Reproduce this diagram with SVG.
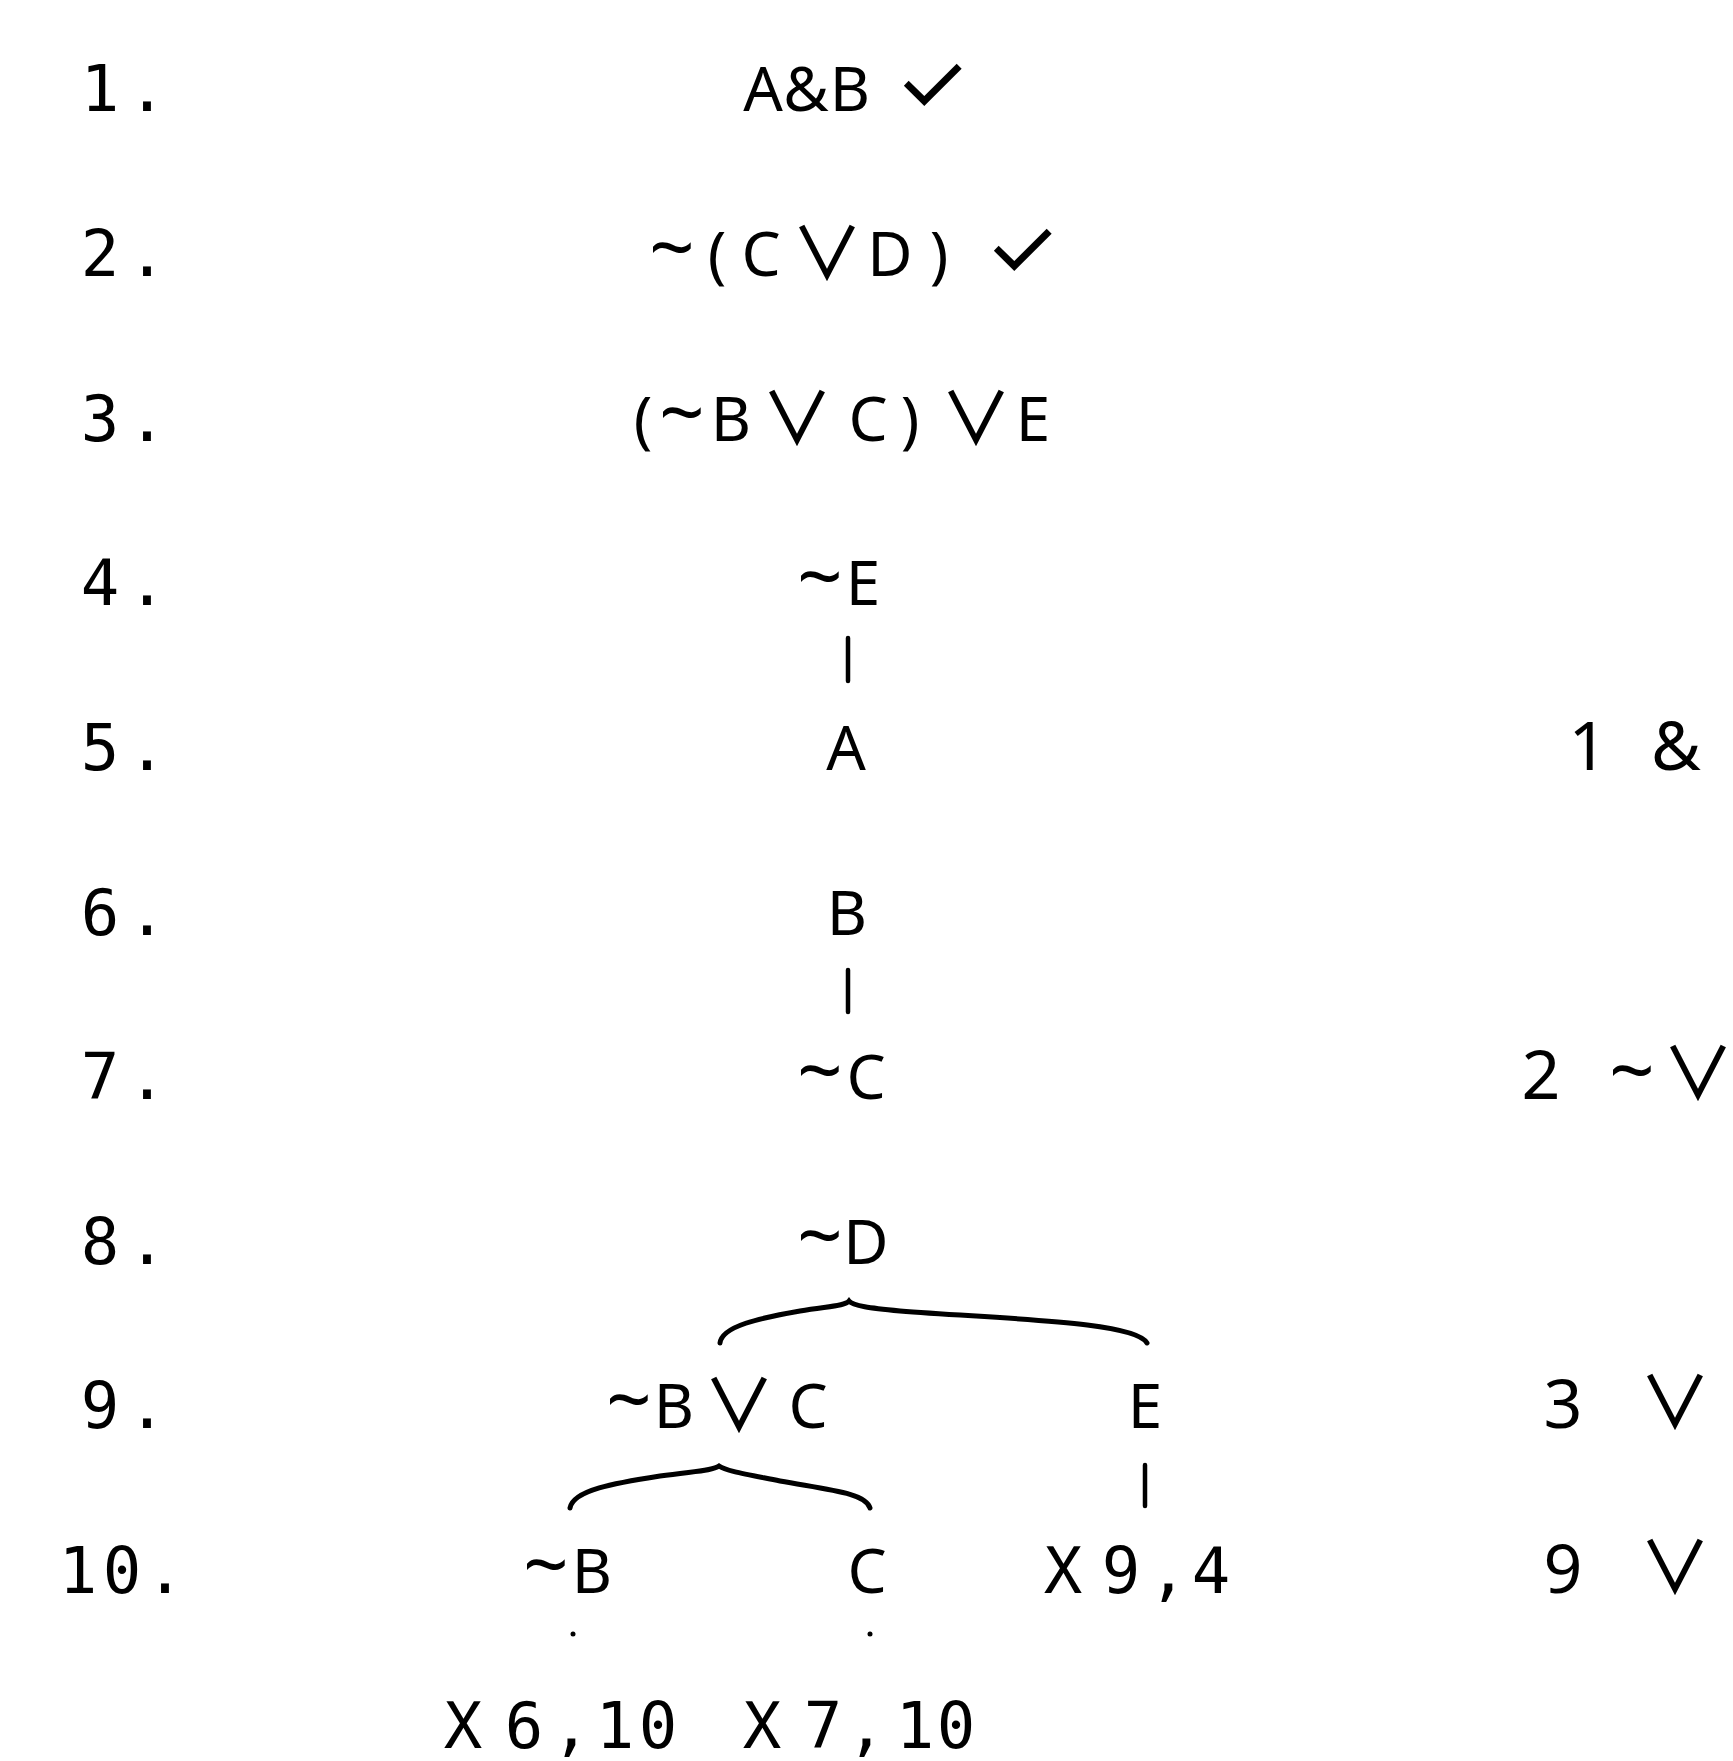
<svg xmlns="http://www.w3.org/2000/svg" width="1733" height="1761" viewBox="0 0 1733 1761">
<style>
  text { fill: #000; }
  .num { font-family: "DejaVu Sans Mono", monospace; font-size: 64px; text-anchor: middle; }
  .f { font-family: "Noto Sans", "DejaVu Sans", sans-serif; font-size: 62px; text-anchor: middle; }
  .or { font-family: "Noto Sans CJK JP", "DejaVu Sans", sans-serif; font-size: 72px; font-weight: 500; }
  .f .or { baseline-shift: -3px; }
  .til { font-size: 80px; }
  .chk { font-family: "Inter", "DejaVu Sans", sans-serif; font-size: 84px; font-weight: 400; baseline-shift: -2px; }
  .just { font-family: "Noto Sans", "DejaVu Sans", sans-serif; font-size: 68px; text-anchor: middle; }
  .conn { stroke: #000; stroke-width: 4.5; fill: none; stroke-linecap: round; }
  .brace { stroke-width: 5; }
  .dot { fill: #000; }
</style>
<rect width="1733" height="1761" fill="#fff"/>
<g id="row-numbers">
  <text class="num" x="100 147" y="111">1.</text>
  <text class="num" x="100 147" y="276">2.</text>
  <text class="num" x="100 147" y="441">3.</text>
  <text class="num" x="100 147" y="605">4.</text>
  <text class="num" x="100 147" y="770">5.</text>
  <text class="num" x="100 147" y="935">6.</text>
  <text class="num" x="100 147" y="1099">7.</text>
  <text class="num" x="100 147" y="1264">8.</text>
  <text class="num" x="100 147" y="1428">9.</text>
  <text class="num" x="78 122 165" y="1593">10.</text>
</g>
<g id="n1"><text class="f" x="763 806 850 891 932" y="111">A&amp;B <tspan class="chk">✓</tspan></text></g>
<g id="n2"><text class="f" x="672 717 761 827 890 939 980 1022" y="276"><tspan class="til">~</tspan>(C<tspan class="or">∨</tspan>D) <tspan class="chk">✓</tspan></text></g>
<g id="n3"><text class="f" x="643 682 731 797 868 910 976 1033" y="441">(<tspan class="til">~</tspan>B<tspan class="or">∨</tspan>C)<tspan class="or">∨</tspan>E</text></g>
<g id="n4"><text class="f" x="820 863" y="605"><tspan class="til">~</tspan>E</text></g>
<g id="n5"><text class="f" x="846" y="770">A</text></g>
<g id="n6"><text class="f" x="847" y="935">B</text></g>
<g id="n7"><text class="f" x="820 866" y="1099"><tspan class="til">~</tspan>C</text></g>
<g id="n8"><text class="f" x="820 866" y="1264"><tspan class="til">~</tspan>D</text></g>
<g id="n9a"><text class="f" x="629 674 739 808" y="1428"><tspan class="til">~</tspan>B<tspan class="or">∨</tspan>C</text></g>
<g id="n9b"><text class="f" x="1145" y="1428">E</text></g>
<g id="n10a"><text class="f" x="546 592" y="1593"><tspan class="til">~</tspan>B</text></g>
<g id="n10b"><text class="f" x="867" y="1593">C</text></g>
<g id="n10c"><text class="num" x="1063 1092 1121 1168 1211" y="1593">X 9,4</text></g>
<g id="n11a"><text class="num" x="463 494 524 571 615 658" y="1748">X 6,10</text></g>
<g id="n11b"><text class="num" x="762 792 823 866 915 956" y="1748">X 7,10</text></g>
<g id="justifications">
  <text class="just" x="1588 1632 1676" y="770">1 &amp;</text>
  <text class="just" x="1541 1590 1632 1698" y="1099">2 <tspan class="til">~</tspan><tspan class="or">∨</tspan></text>
  <text class="just" x="1563 1620 1675" y="1428">3 <tspan class="or">∨</tspan></text>
  <text class="just" x="1563 1620 1675" y="1593">9 <tspan class="or">∨</tspan></text>
</g>
<g id="connectors">
  <path class="conn" d="M848 638 V681"/>
  <path class="conn" d="M848 970 V1012"/>
  <path class="conn brace" d="M720 1343 C722 1326 760 1318 800 1311 C830 1306 845 1306 849 1301 C853 1306 870 1308 900 1311 C1000 1319 1135 1321 1147 1343"/>
  <path class="conn brace" d="M570 1508 C573 1490 615 1483 660 1476 C695 1471 712 1471 719 1466 C726 1471 745 1474 780 1481 C830 1490 866 1493 870 1508"/>
  <path class="conn" d="M1145 1465 V1506"/>
  <circle class="dot" cx="573" cy="1634" r="2.5"/>
  <circle class="dot" cx="870" cy="1634" r="2.5"/>
</g>
</svg>
